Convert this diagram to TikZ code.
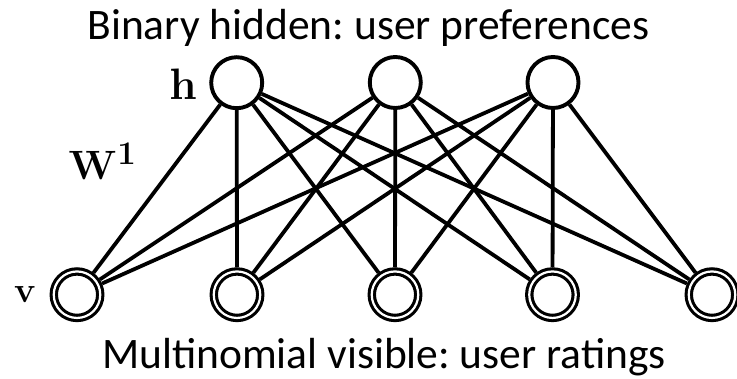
\RequirePackage{fix-cm}
\documentclass[tikz,border=0pt]{standalone}
\usepackage[no-math]{fontspec}
\setmainfont{Carlito}
\frenchspacing
\begin{document}
\begin{tikzpicture}[x=1pt,y=1pt,
  hid/.style={circle,draw,line width=3.9pt,inner sep=0pt,minimum size=51pt},
  vis/.style={circle,draw,line width=3.1pt,double,double distance=2.2pt,
              inner sep=0pt,minimum size=46.5pt,outer sep=4.2pt},
  conn/.style={line width=3.8pt},
  lbl/.style={inner sep=0pt},
  caption/.style={anchor=base,inner sep=0pt,font=\fontsize{43.5}{43.5}\selectfont}]
\useasboundingbox (0,0) rectangle (737,378);
% hidden units
\node[hid] (h1) at (236.7,295.3) {};
\node[hid] (h2) at (395.3,295.5) {};
\node[hid] (h3) at (553.0,295.5) {};
% visible units
\node[vis] (v1) at (77.0,83.3) {};
\node[vis] (v2) at (237.0,83.3) {};
\node[vis] (v3) at (395.0,83.3) {};
\node[vis] (v4) at (552.5,83.3) {};
\node[vis] (v5) at (712.0,83.3) {};
% full bipartite connections
\foreach \i in {1,2,3}
  \foreach \j in {1,...,5}
    \draw[conn] (h\i) -- (v\j);
% layer labels
\node[lbl,anchor=base east,font=\fontsize{44}{44}\selectfont] (hl) at (197,278.7) {$\mathbf{h}$};
\node[lbl,anchor=base west,font=\fontsize{41}{41}\selectfont] (wl) at (68.5,198)
  {$\mathbf{W}$\kern0.5pt\raisebox{15pt}{\fontsize{33}{33}\selectfont$\mathbf{1}$}};
\node[lbl,anchor=base west,font=\fontsize{36}{36}\selectfont] (vl) at (14,75) {$\mathbf{v}$};
% captions
\node[caption] (top) at (368.5,338.7) {Binary hidden: user preferences};
\node[caption] (bot) at (384,9.5) {Multinomial visible: user ratings};
\end{tikzpicture}
\end{document}
